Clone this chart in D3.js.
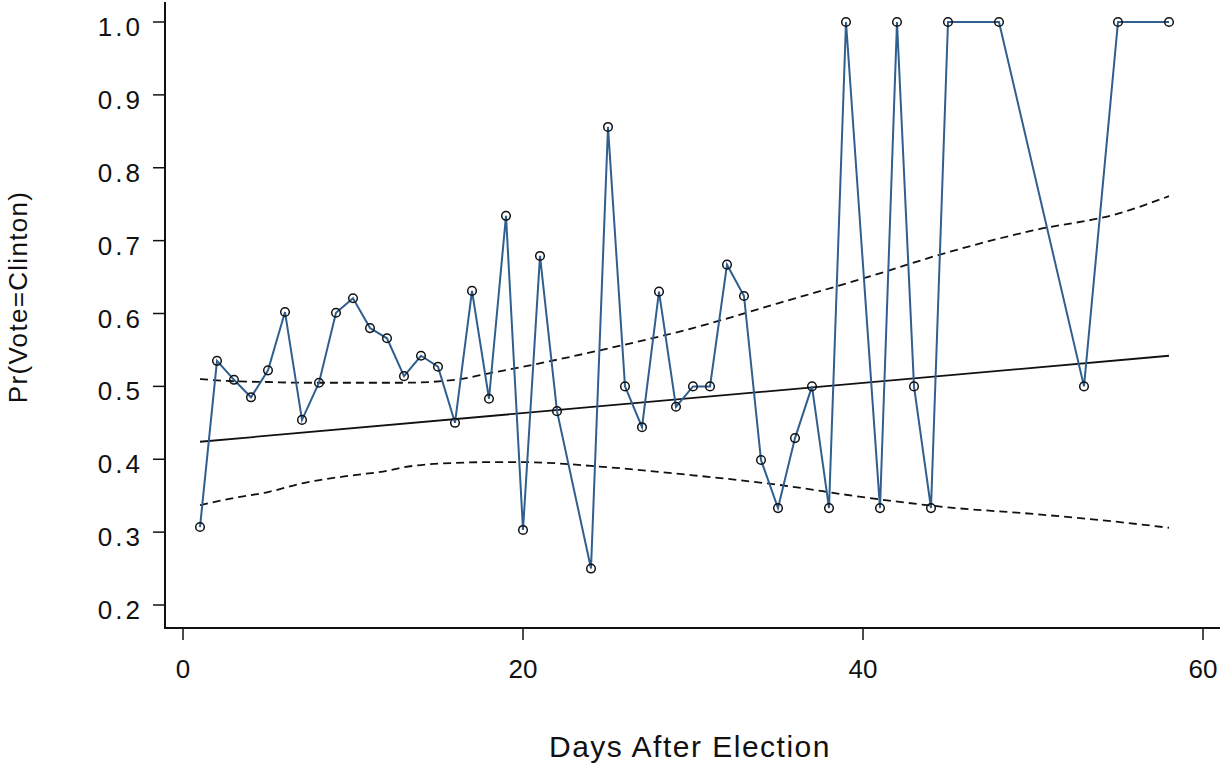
<!DOCTYPE html>
<html><head><meta charset="utf-8">
<script src="https://cdn.jsdelivr.net/npm/d3@7/dist/d3.min.js"></script>
<style>body{margin:0;background:#fff;} text{font-family:"Liberation Sans",Arial,sans-serif;fill:#111;}</style>
</head><body><svg id="c" width="1222" height="764"></svg>
<script>
const days = [1,2,3,4,5,6,7,8,9,10,11,12,13,14,15,16,17,18,19,20,21,22,24,25,26,27,28,29,30,31,32,33,34,35,36,37,38,39,41,42,43,44,45,48,53,55,58];
const probs = [0.307,0.535,0.509,0.485,0.522,0.602,0.454,0.505,0.601,0.621,0.580,0.566,0.514,0.542,0.527,0.450,0.631,0.483,0.734,0.303,0.679,0.466,0.250,0.856,0.500,0.444,0.630,0.472,0.500,0.500,0.667,0.624,0.399,0.333,0.429,0.500,0.333,1.0,0.333,1.0,0.500,0.333,1.0,1.0,0.500,1.0,1.0];
const fitDays = [1,58];
const fitVals = [0.424,0.542];
const ciDays = [1,3,5,7,10,12,13,16,18,20,25,30,35,40,45,50,55,58];
const ciUpper = [0.510,0.507,0.506,0.505,0.505,0.505,0.505,0.509,0.518,0.527,0.552,0.580,0.614,0.648,0.684,0.714,0.737,0.761];
const ciLower = [0.337,0.347,0.355,0.367,0.378,0.384,0.389,0.395,0.396,0.396,0.389,0.378,0.365,0.348,0.334,0.325,0.314,0.306];
const xTicks = [0,20,40,60];
const yTicks = [0.2,0.3,0.4,0.5,0.6,0.7,0.8,0.9,1.0];

const svg = d3.select("#c");
const x = d3.scaleLinear().domain([0,60]).range([183,1203]);
const y = d3.scaleLinear().domain([0.2,1.0]).range([605,22]);

// axes
const xAxis = svg.append("g").attr("transform","translate(0,628)");
xAxis.append("line").attr("x1",164).attr("x2",1220).attr("y1",0).attr("y2",0).attr("stroke","#111").attr("stroke-width",2);
xAxis.call(g=>{
  const t = g.selectAll("g.t").data(xTicks).join("g").attr("class","t").attr("transform",d=>`translate(${x(d)},0)`);
  t.append("line").attr("y1",1).attr("y2",12).attr("stroke","#111").attr("stroke-width",1.5);
  t.append("text").attr("y",50).attr("text-anchor","middle").attr("font-size",26).text(d=>d);
});
const yAxis = svg.append("g").attr("transform","translate(165,0)");
yAxis.append("line").attr("x1",0).attr("x2",0).attr("y1",2).attr("y2",629).attr("stroke","#111").attr("stroke-width",2);
yAxis.call(g=>{
  const t = g.selectAll("g.t").data(yTicks).join("g").attr("class","t").attr("transform",d=>`translate(0,${y(d)})`);
  t.append("line").attr("x1",-12).attr("x2",0).attr("stroke","#111").attr("stroke-width",1.5);
  t.append("text").attr("x",-22).attr("y",14).attr("text-anchor","end").attr("font-size",26).attr("letter-spacing",3).text(d=>d3.format(".1f")(d));
});

svg.append("text").attr("x",690).attr("y",757).attr("text-anchor","middle").attr("font-size",30).attr("letter-spacing",1.5).text("Days After Election");
svg.append("text").attr("transform","translate(27,297) rotate(-90)").attr("text-anchor","middle").attr("font-size",26).attr("letter-spacing",1.3).text("Pr(Vote=Clinton)");

const line = d3.line().x(d=>x(d[0])).y(d=>y(d[1]));
// CI bands
svg.append("path").datum(ciDays.map((d,i)=>[d,ciUpper[i]])).attr("d",line.curve(d3.curveMonotoneX)).attr("fill","none").attr("stroke","#111").attr("stroke-width",1.8).attr("stroke-dasharray","8,5");
svg.append("path").datum(ciDays.map((d,i)=>[d,ciLower[i]])).attr("d",line.curve(d3.curveMonotoneX)).attr("fill","none").attr("stroke","#111").attr("stroke-width",1.8).attr("stroke-dasharray","8,5");
line.curve(d3.curveLinear);
svg.append("path").datum(fitDays.map((d,i)=>[d,fitVals[i]])).attr("d",line).attr("fill","none").attr("stroke","#111").attr("stroke-width",1.8);

// data line
const pts = days.map((d,i)=>[d,probs[i]]);
svg.append("path").datum(pts).attr("d",line).attr("fill","none").attr("stroke","#2f5f8f").attr("stroke-width",2);
svg.selectAll("circle.p").data(pts).join("circle").attr("class","p")
  .attr("cx",d=>x(d[0])).attr("cy",d=>y(d[1])).attr("r",4.3)
  .attr("fill","none").attr("stroke","#111").attr("stroke-width",1.5);
</script></body></html>
